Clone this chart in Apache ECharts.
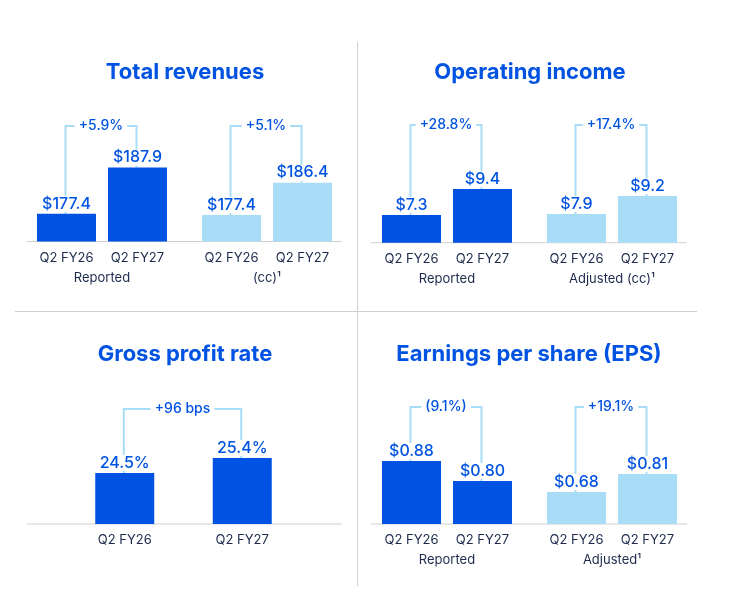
<!DOCTYPE html>
<html>
<head>
<meta charset="utf-8">
<script src="https://cdn.jsdelivr.net/npm/echarts@6/dist/echarts.min.js"></script>
<style>
  html, body { margin: 0; padding: 0; background: #fff; }
  #chart { width: 742px; height: 600px; }
</style>
</head>
<body>
<div id="chart"></div>
<script>
// values
const categories = ['Q2 FY26', 'Q2 FY27'];
const revenueReported = [177.4, 187.9];
const revenueCc = [177.4, 186.4];
const opIncomeReported = [7.3, 9.4];
const opIncomeAdjusted = [7.9, 9.2];
const grossProfitRate = [24.5, 25.4];
const epsReported = [0.88, 0.80];
const epsAdjusted = [0.68, 0.81];
const changeLabels = ['+5.9%', '+5.1%', '+28.8%', '+17.4%', '+96 bps', '(9.1%)', '+19.1%'];
const panelTitles = ['Total revenues', 'Operating income', 'Gross profit rate', 'Earnings per share (EPS)'];
const groupNames = ['Reported', '(cc)\u00b9', 'Reported', 'Adjusted (cc)\u00b9', '', 'Reported', 'Adjusted\u00b9'];

const DARK = '#0053E2';
const LIGHT = '#A9DDF7';
const TEXT_BLUE = '#0053E2';
const NAVY = '#1D2A4C';
const FONT = 'Inter, "Noto Sans", sans-serif';

const money1 = v => '$' + v.toFixed(1);
const money2 = v => '$' + v.toFixed(2);
const pct = v => v.toFixed(1) + '%';

// one grid per pair of bars; axis ranges are cut so the bars look like the slide
const pairs = [
  { data: revenueReported, color: DARK, fmt: money1, left: 31, width: 142, top: 126, height: 115.5, min: 171.1, max: 197.3 },
  { data: revenueCc, color: LIGHT, fmt: money1, left: 196, width: 142, top: 126, height: 115.5, min: 170.0, max: 202.2 },
  { data: opIncomeReported, color: DARK, fmt: money1, left: 376, width: 142, top: 125, height: 117.7, min: 5.07, max: 14.56 },
  { data: opIncomeAdjusted, color: LIGHT, fmt: money1, left: 541, width: 142, top: 125, height: 117.7, min: 5.83, max: 14.33 },
  { data: grossProfitRate, color: DARK, fmt: pct, left: 66, width: 235, top: 409, height: 115, min: 21.44, max: 28.34 },
  { data: epsReported, color: DARK, fmt: money2, left: 376, width: 142, top: 407, height: 117, min: 0.628, max: 1.096 },
  { data: epsAdjusted, color: LIGHT, fmt: money2, left: 541, width: 142, top: 407, height: 117, min: 0.449, max: 1.294 }
];

const chart = echarts.init(document.getElementById('chart'));

const grids = [], xAxes = [], yAxes = [], series = [];
pairs.forEach((p, i) => {
  grids.push({ left: p.left, top: p.top, width: p.width, height: p.height });
  xAxes.push({
    type: 'category',
    gridIndex: i,
    data: categories,
    axisLine: { show: false },
    axisTick: { show: false },
    axisLabel: { margin: 10, fontSize: 13, color: NAVY, fontFamily: FONT },
    name: groupNames[i],
    nameLocation: 'middle',
    nameGap: 30,
    nameTextStyle: { fontSize: 13, color: NAVY, fontFamily: FONT }
  });
  yAxes.push({
    type: 'value',
    gridIndex: i,
    min: p.min,
    max: p.max,
    show: false,
    splitLine: { show: false }
  });
  series.push({
    type: 'bar',
    xAxisIndex: i,
    yAxisIndex: i,
    data: p.data,
    barWidth: 59,
    z: 3,
    itemStyle: { color: p.color },
    label: {
      show: true,
      position: 'top',
      distance: 2,
      formatter: o => p.fmt(o.value),
      fontSize: 16,
      fontWeight: 500,
      fontFamily: FONT,
      color: TEXT_BLUE,
      backgroundColor: '#fff',
      padding: [0, 2, 0, 2]
    }
  });
  // bracket joining the two bars, with the change label on top
  series.push({
    type: 'custom',
    xAxisIndex: i,
    yAxisIndex: i,
    z: 1,
    silent: true,
    encode: { x: 0, y: 1 },
    data: [[0, p.data[0], p.data[1]]],
    renderItem: (params, api) => {
      const a = api.coord([0, api.value(1)]);
      const b = api.coord([1, api.value(2)]);
      const top = params.coordSys.y;
      return {
        type: 'group',
        children: [
          {
            type: 'polyline',
            shape: { points: [[a[0] - 1, a[1]], [a[0] - 1, top], [b[0] - 1, top], [b[0] - 1, b[1]]] },
            style: { stroke: LIGHT, lineWidth: 2, fill: null }
          },
          {
            type: 'text',
            x: (a[0] + b[0]) / 2 - 1,
            y: top,
            style: {
              text: changeLabels[i],
              align: 'center',
              verticalAlign: 'middle',
              fill: TEXT_BLUE,
              font: '500 14px ' + FONT,
              backgroundColor: '#fff',
              padding: [1, 4]
            }
          }
        ]
      };
    }
  });
});

const grey = '#D0D0D0';
const hline = (x1, x2, y, c) => ({ type: 'line', shape: { x1: x1, y1: y, x2: x2, y2: y }, style: { stroke: c, lineWidth: 1 } });

chart.setOption({
  animation: false,
  title: [
    { text: panelTitles[0], left: 180, top: 56 },
    { text: panelTitles[1], left: 525, top: 56 },
    { text: panelTitles[2], left: 180, top: 338 },
    { text: panelTitles[3], left: 524, top: 338 }
  ].map(t => Object.assign(t, {
    textAlign: 'center',
    textStyle: { fontSize: 22, fontWeight: 'bold', color: TEXT_BLUE, fontFamily: FONT }
  })),
  grid: grids,
  xAxis: xAxes,
  yAxis: yAxes,
  series: series,
  graphic: [
    // panel dividers
    { type: 'line', shape: { x1: 357.5, y1: 42, x2: 357.5, y2: 586 }, style: { stroke: grey, lineWidth: 1 } },
    hline(15, 697, 311.5, grey),
    // baselines under the bars
    hline(27, 342, 241.5, '#CFCFCF'),
    hline(371, 687, 242.7, '#CFCFCF'),
    hline(27, 342, 524, '#CFCFCF'),
    hline(371, 687, 524, '#CFCFCF')
  ]
});
</script>
</body>
</html>
